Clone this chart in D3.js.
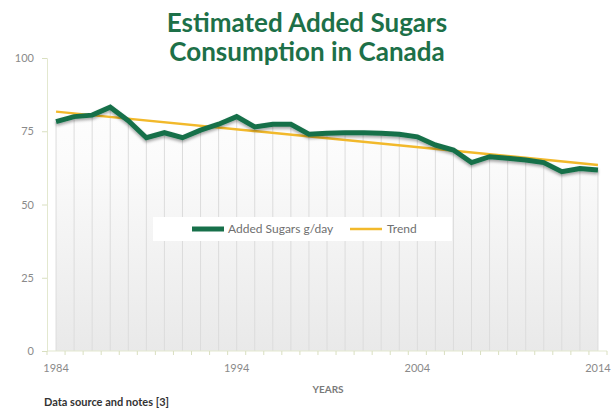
<!DOCTYPE html>
<html>
<head>
<meta charset="utf-8">
<script src="https://cdn.jsdelivr.net/npm/d3@7"></script>
<style>
  body { margin: 0; background: #fff; }
  svg { font-family: Lato, "Open Sans", sans-serif; }
</style>
</head>
<body>
<svg id="chart" width="616" height="408"></svg>
<script>
// данные
const years = d3.range(1984, 2015)
const sugars = [78.3, 80.0, 80.5, 83.2, 78.6, 72.8, 74.5, 72.8, 75.4, 77.4,
    80.0, 76.5, 77.4, 77.4, 74.0, 74.3, 74.5, 74.5, 74.3, 74.0,
    73.1, 70.3, 68.6, 64.3, 66.3, 65.8, 65.2, 64.3, 61.2, 62.3, 61.8]
const trendYears = [1984, 2014]
const trendValues = [81.7, 63.5]
const yTicks = [0, 25, 50, 75, 100]
const xLabels = [1984, 1994, 2004, 2014]
const titleLines = ['Estimated Added Sugars', 'Consumption in Canada']

const svg = d3.select('#chart')
const plotLeft = 47, plotRight = 607, plotTop = 58, plotBottom = 351

const x = d3.scaleBand().domain(years).range([plotLeft, plotRight])
const cx = d => x(d) + x.bandwidth() / 2
const y = d3.scaleLinear().domain([0, 100]).range([plotBottom, plotTop])

const defs = svg.append('defs')
const grad = defs.append('linearGradient')
    .attr('id', 'areaGrad').attr('gradientUnits', 'userSpaceOnUse')
    .attr('x1', 0).attr('y1', plotTop).attr('x2', 0).attr('y2', plotBottom)
grad.append('stop').attr('offset', '0%').attr('stop-color', '#ffffff')
grad.append('stop').attr('offset', '35%').attr('stop-color', '#fbfbfb')
grad.append('stop').attr('offset', '100%').attr('stop-color', '#e9e9e9')

const shadow = defs.append('filter').attr('id', 'shadow')
    .attr('x', '-5%').attr('y', '-20%').attr('width', '110%').attr('height', '140%')
shadow.append('feDropShadow').attr('dx', 0).attr('dy', 2).attr('stdDeviation', 1.5)
    .attr('flood-color', '#000').attr('flood-opacity', 0.35)

// заливка под линией
const area = d3.area()
    .x((d, i) => cx(years[i]))
    .y0(plotBottom)
    .y1(d => y(d))
svg.append('path')
    .datum(sugars)
    .attr('d', area)
    .attr('fill', 'url(#areaGrad)')

// вертикальные линии от точек
svg.append('g')
    .selectAll('line')
    .data(sugars)
    .join('line')
    .attr('x1', (d, i) => cx(years[i]))
    .attr('x2', (d, i) => cx(years[i]))
    .attr('y1', d => y(d))
    .attr('y2', plotBottom)
    .attr('stroke', '#dcdcdc')
    .attr('stroke-width', 1)

// оси
const yAxis = svg.append('g')
    .attr('transform', `translate(${plotLeft},0)`)
    .call(d3.axisLeft(y).tickValues(yTicks).tickSize(5).tickPadding(8))
yAxis.select('.domain').attr('stroke', '#e3e8cf')
yAxis.selectAll('.tick line').attr('stroke', '#d9dfc0')
yAxis.selectAll('.tick text').attr('fill', '#8a8a8a').attr('font-size', 11)
    .attr('font-family', 'Lato, sans-serif')

const xAxis = svg.append('g')
    .attr('transform', `translate(0,${plotBottom})`)
xAxis.append('line')
    .attr('x1', plotLeft).attr('x2', plotRight)
    .attr('stroke', '#e3e8cf')
xAxis.selectAll('.tk')
    .data(years.concat([2015]))
    .join('line')
    .attr('class', 'tk')
    .attr('x1', d => d === 2015 ? plotRight : x(d))
    .attr('x2', d => d === 2015 ? plotRight : x(d))
    .attr('y1', 0).attr('y2', 4)
    .attr('stroke', '#d9dfc0')
xAxis.selectAll('text')
    .data(xLabels)
    .join('text')
    .attr('x', d => cx(d))
    .attr('y', 21)
    .attr('text-anchor', 'middle')
    .attr('fill', '#8a8a8a')
    .attr('font-size', 11)
    .text(d => d)

// линия тренда
const trendLine = d3.line()
    .x((d, i) => cx(trendYears[i]))
    .y(d => y(d))
svg.append('path')
    .datum(trendValues)
    .attr('d', trendLine)
    .attr('fill', 'none')
    .attr('stroke', '#f2b92b')
    .attr('stroke-width', 2.5)

// основная линия
const line = d3.line()
    .x((d, i) => cx(years[i]))
    .y(d => y(d))
svg.append('path')
    .datum(sugars)
    .attr('d', line)
    .attr('fill', 'none')
    .attr('stroke', '#17704a')
    .attr('stroke-width', 5)
    .attr('stroke-linejoin', 'miter')
    .attr('filter', 'url(#shadow)')

// заголовок
svg.append('g')
    .selectAll('text')
    .data(titleLines)
    .join('text')
    .attr('x', 307)
    .attr('y', (d, i) => 32 + i * 29)
    .attr('text-anchor', 'middle')
    .attr('fill', '#1d7048')
    .attr('font-size', 26)
    .attr('font-weight', 'bold')
    .text(d => d)

// легенда
const legend = svg.append('g')
legend.append('rect')
    .attr('x', 153).attr('y', 217).attr('width', 299).attr('height', 24)
    .attr('fill', '#fff')
legend.append('line')
    .attr('x1', 192).attr('x2', 224).attr('y1', 229).attr('y2', 229)
    .attr('stroke', '#17704a').attr('stroke-width', 5)
legend.append('text')
    .attr('x', 228).attr('y', 233)
    .attr('fill', '#6f6f6f').attr('font-size', 12)
    .text('Added Sugars g/day')
legend.append('line')
    .attr('x1', 350).attr('x2', 382).attr('y1', 229).attr('y2', 229)
    .attr('stroke', '#f2b92b').attr('stroke-width', 2.5)
legend.append('text')
    .attr('x', 387).attr('y', 233)
    .attr('fill', '#6f6f6f').attr('font-size', 12)
    .text('Trend')

svg.append('text')
    .attr('x', 328).attr('y', 393)
    .attr('text-anchor', 'middle')
    .attr('fill', '#7a7a7a')
    .attr('font-size', 10)
    .attr('font-weight', 'bold')
    .text('YEARS')

svg.append('text')
    .attr('x', 44).attr('y', 406)
    .attr('fill', '#333')
    .attr('font-size', 11)
    .attr('font-weight', 'bold')
    .text('Data source and notes [3]')
</script>
</body>
</html>
